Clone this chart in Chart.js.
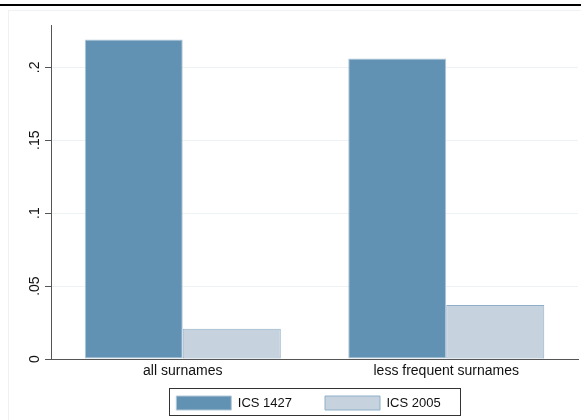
<!DOCTYPE html>
<html>
<head>
<meta charset="utf-8">
<script src="https://cdn.jsdelivr.net/npm/chart.js@4.4.1/dist/chart.umd.min.js"></script>
<style>
  html, body { margin: 0; padding: 0; background: #fff; }
  canvas { display: block; }
</style>
</head>
<body>
<canvas id="chart" width="581" height="420"></canvas>
<script>
const categories = ['all surnames', 'less frequent surnames'];
const ics1427 = [0.219, 0.206];
const ics2005 = [0.0208, 0.037];
const yTicks = [0, 0.05, 0.1, 0.15, 0.2];
const yTickLabels = ['0', '.05', '.1', '.15', '.2'];

const FONT = 'Liberation Sans, Arial, Helvetica, sans-serif';

// page frame + legend box (Stata style)
const framePlugin = {
  id: 'frame',
  afterLayout(chart) {
    // legend sits right under the category labels, a bit left of centre like Stata
    const lg = chart.legend;
    lg.top = chart.chartArea.bottom + 4;
    lg.bottom = chart.height;
    lg.height = lg.bottom - lg.top;
    lg.left -= 6;
    lg.right -= 6;
  },
  beforeDraw(chart) {
    const ctx = chart.ctx;
    ctx.save();
    ctx.fillStyle = '#000';
    ctx.fillRect(0, 4, chart.width, 2);
    ctx.strokeStyle = '#eef2f4';
    ctx.lineWidth = 1;
    ctx.strokeRect(8.5, 10.5, chart.width, chart.height);
    ctx.restore();
  },
  afterDraw(chart) {
    const boxes = chart.legend.legendHitBoxes;
    if (!boxes || !boxes.length) return;
    const first = boxes[0], last = boxes[boxes.length - 1];
    const ctx = chart.ctx;
    ctx.save();
    ctx.strokeStyle = '#333';
    ctx.lineWidth = 1;
    const l = Math.round(first.left - 7) + 0.5;
    const r = Math.round(last.left + last.width + 19) + 0.5;
    const t = Math.round(first.top - 8) + 0.5;
    const b = Math.round(first.top + 19) + 0.5;
    ctx.strokeRect(l, t, r - l, b - t);
    ctx.restore();
  }
};

new Chart(document.getElementById('chart'), {
  type: 'bar',
  data: {
    labels: categories,
    datasets: [
      {
        label: 'ICS 1427',
        data: ics1427,
        backgroundColor: '#6191b3',
        borderColor: '#b4c8d8',
        borderWidth: 1,
        borderSkipped: false,
        categoryPercentage: 0.744,
        barPercentage: 1
      },
      {
        label: 'ICS 2005',
        data: ics2005,
        backgroundColor: '#c6d2de',
        borderColor: '#8eafc8',
        borderWidth: 1,
        borderSkipped: false,
        categoryPercentage: 0.744,
        barPercentage: 1
      }
    ]
  },
  options: {
    responsive: false,
    animation: false,
    devicePixelRatio: 1,
    layout: { padding: { top: 25, right: 3, left: 0, bottom: 0 } },
    plugins: {
      tooltip: { enabled: false },
      legend: {
        position: 'bottom',
        fullSize: false,
        maxHeight: 36,
        labels: {
          boxWidth: 55,
          boxHeight: 14,
          padding: 33,
          color: '#111',
          font: { family: FONT, size: 13 }
        }
      }
    },
    scales: {
      x: {
        grid: { display: false, drawTicks: false },
        border: { display: true, color: '#555', width: 1 },
        ticks: { color: '#111', padding: 4, autoSkip: false, font: { family: FONT, size: 14 } },
        afterFit(scale) { scale.height = 25; }
      },
      y: {
        min: 0,
        max: 0.229,
        afterBuildTicks(scale) { scale.ticks = yTicks.map(v => ({ value: v })); },
        grid: {
          color: ctx => (ctx.tick && ctx.tick.value === 0) ? 'rgba(0,0,0,0)' : '#edf3f5',
          tickColor: '#555',
          tickLength: 6,
          lineWidth: 1
        },
        border: { display: true, color: '#555', width: 1 },
        ticks: {
          color: '#111',
          padding: 0,
          minRotation: 90,
          maxRotation: 90,
          crossAlign: 'center',
          font: { family: FONT, size: 14 },
          callback: (value, index) => yTickLabels[index]
        },
        afterFit(scale) { scale.width = 51; }
      }
    }
  },
  plugins: [framePlugin]
});
</script>
</body>
</html>
